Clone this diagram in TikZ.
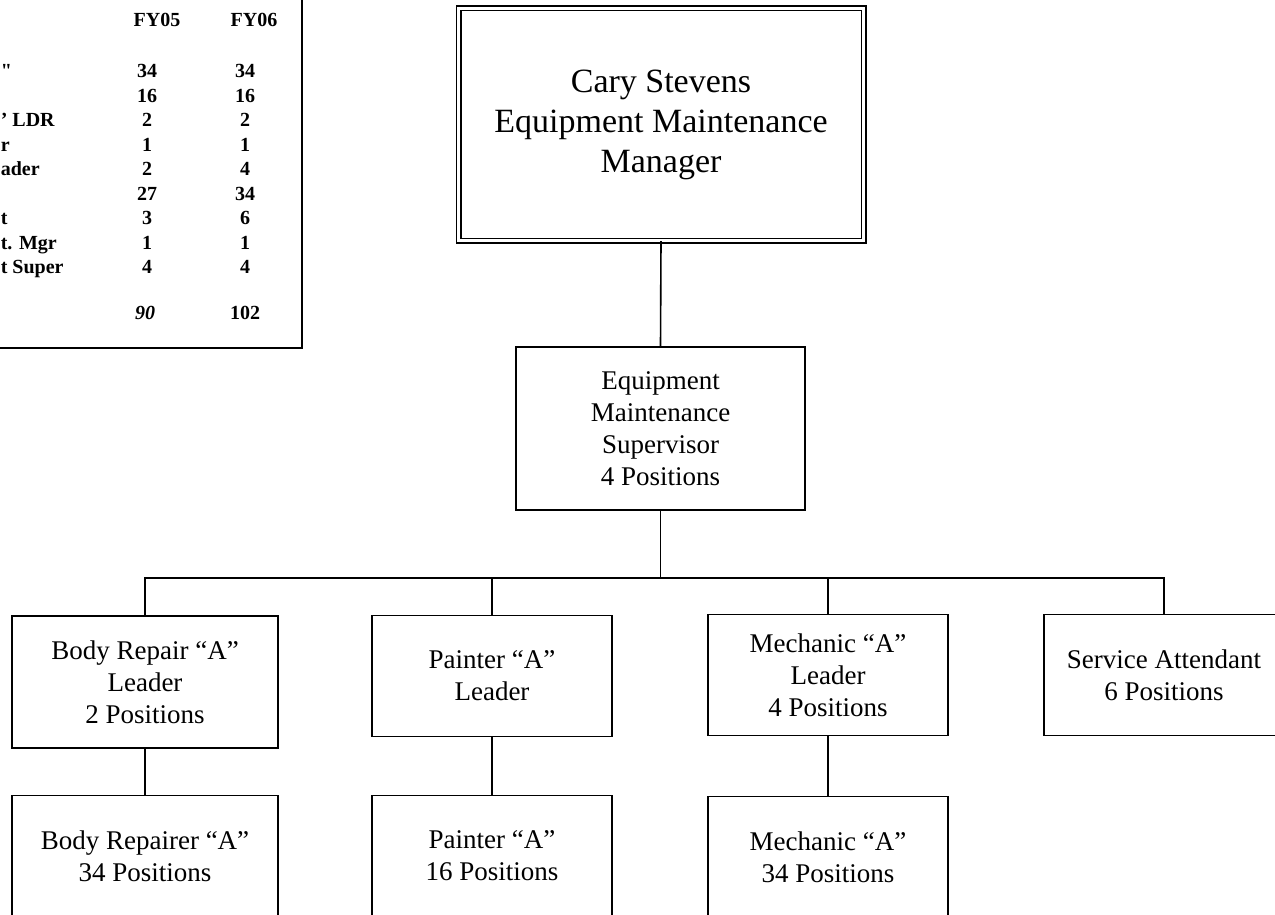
\documentclass[tikz,border=0pt]{standalone}
\usepackage{fontspec}
\setmainfont{Liberation Serif}

\begin{document}
\begin{tikzpicture}[
  x=1pt, y=-1pt, line width=1.6pt,
  box/.style={draw, rectangle, align=center, inner sep=0pt,
              minimum width=240pt, minimum height=121pt,
              font=\fontsize{27}{32}\selectfont},
  mgrbox/.style={draw, rectangle, align=center, inner sep=0pt,
              double, double distance=3.4pt, line width=1.3pt,
              minimum width=405pt, minimum height=232pt,
              font=\fontsize{34}{40}\selectfont},
  cell/.style={inner sep=0pt, font=\bfseries\fontsize{20}{24.5}\selectfont},
]
\useasboundingbox (0,0) rectangle (1275,915);
\clip (0,0) rectangle (1275,915);

% staffing table, cut off at the page edge
\node[draw, line width=1.4pt, minimum width=404pt, minimum height=396pt,
      inner sep=0pt] (tbl) at (100,150) {};
\node[cell] (h05) at (157,20) {FY05};
\node[cell] (h06) at (254,20) {FY06};
\node[cell, anchor=west, align=left] (lbls) at (0,171.5)
  {\textquotedbl\\\mbox{}\\' LDR\\r\\ader\\\mbox{}\\t\\t. Mgr\\t Super};
\node[cell, align=center] (c05) at (147,169)
  {34\\16\\2\\1\\2\\27\\3\\1\\4};
\node[cell, align=center] (c06) at (245,169)
  {34\\16\\2\\1\\4\\34\\6\\1\\4};
\node[cell] (t05) at (145,313) {\itshape 90};
\node[cell] (t06) at (245,313) {102};

% manager and supervisor
\node[mgrbox] (mgr) at (661,124.5) {Cary Stevens\\Equipment Maintenance\\Manager};
\node[box, minimum width=289pt, minimum height=163pt] (sup) at (660.5,428.5)
  {Equipment\\Maintenance\\Supervisor\\4 Positions};

% leaders
\node[box, minimum width=266pt, minimum height=132pt] (bodyldr) at (145,682)
  {Body Repair ``A''\\Leader\\2 Positions};
\node[box] (paintldr) at (492,676) {Painter ``A''\\Leader};
\node[box] (mechldr)  at (828,675) {Mechanic ``A''\\Leader\\4 Positions};
\node[box] (svc)      at (1164,675) {Service Attendant\\6 Positions};

% crews
\node[box, minimum width=266pt] (bodyrep) at (145,856) {Body Repairer ``A''\\34 Positions};
\node[box] (painter) at (492,856) {Painter ``A''\\16 Positions};
\node[box] (mech)    at (828,857) {Mechanic ``A''\\34 Positions};

\coordinate (bus) at (660.5,578);
\draw (mgr.south) -- (sup.north);
\draw (sup.south) -- (bus);
\draw (bodyldr.north) |- (bus) -| (svc.north);
\draw (paintldr.north) -- (paintldr.north |- bus);
\draw (mechldr.north) -- (mechldr.north |- bus);
\draw (bodyldr.south) -- (bodyrep.north);
\draw (paintldr.south) -- (painter.north);
\draw (mechldr.south) -- (mech.north);
\end{tikzpicture}
\end{document}
